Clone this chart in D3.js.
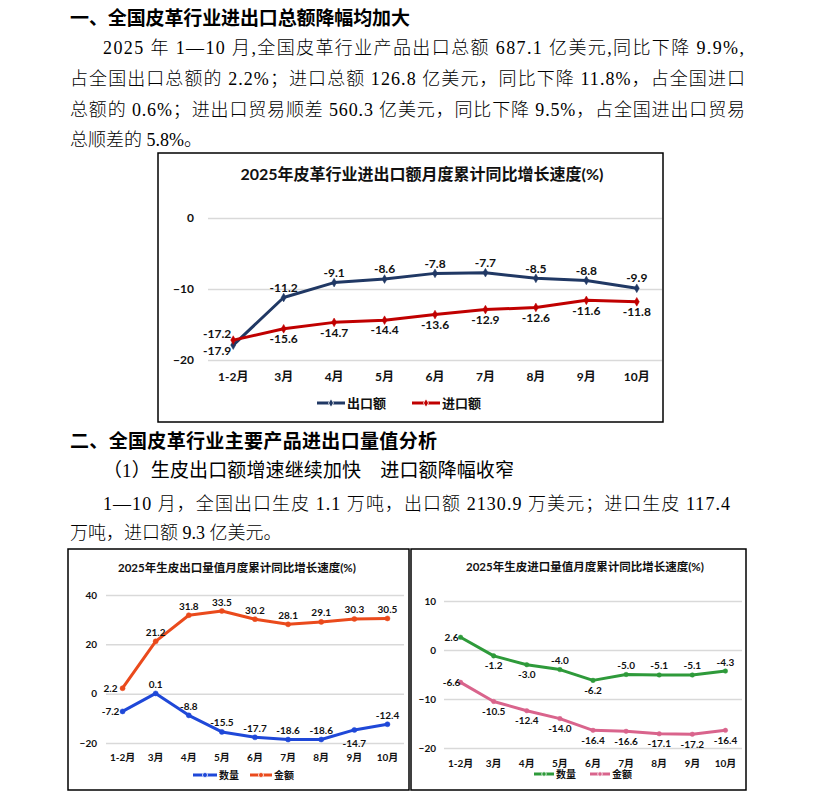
<!DOCTYPE html>
<html><head><meta charset="utf-8">
<script src="https://cdn.jsdelivr.net/npm/d3@7/dist/d3.min.js"></script>
<style>html,body{margin:0;padding:0;background:#fff;}svg{display:block;}</style>
</head><body>
<svg id="c" width="814" height="794"></svg>
<script>
// ---------- DATA ----------
const categories = ['1-2月','3月','4月','5月','6月','7月','8月','9月','10月'];
// Chart 1: 皮革行业进出口额月度累计同比增长速度(%)
const leatherExport = [-17.9,-11.2,-9.1,-8.6,-7.8,-7.7,-8.5,-8.8,-9.9];
const leatherImport = [-17.2,-15.6,-14.7,-14.4,-13.6,-12.9,-12.6,-11.6,-11.8];
const ticks1 = [0,-10,-20];
// Chart 2: 生皮出口量值
const hideExportQty = [-7.2,0.1,-8.8,-15.5,-17.7,-18.6,-18.6,-14.7,-12.4];
const hideExportVal = [2.2,21.2,31.8,33.5,30.2,28.1,29.1,30.3,30.5];
const ticks2 = [40,20,0,-20];
// Chart 3: 生皮进口量值
const hideImportQty = [2.6,-1.2,-3.0,-4.0,-6.2,-5.0,-5.1,-5.1,-4.3];
const hideImportVal = [-6.6,-10.5,-12.4,-14.0,-16.4,-16.6,-17.1,-17.2,-16.4];
const ticks3 = [10,0,-10,-20];

// ---------- TEXT ----------
const svg = d3.select('#c');
svg.append('rect').attr('width',814).attr('height',794).attr('fill','#fff');
const bodyFont = '"Liberation Serif","Noto Sans CJK SC",serif';
const headFont = '"Noto Sans CJK SC",sans-serif';
const chartFont = 'Lato,"Noto Sans CJK SC",sans-serif';

function txt(x,y,s,opt){
  const t = svg.append('text').attr('x',x).attr('y',y).text(s)
    .attr('font-family',opt.font||bodyFont).attr('font-size',opt.size||18)
    .attr('font-weight',opt.weight||300).attr('fill','#000');
  if(opt.len){t.attr('textLength',opt.len).attr('lengthAdjust','spacing');}
  return t;
}
txt(70,25,'一、全国皮革行业进出口总额降幅均加大',{font:headFont,size:19,weight:700,len:340});
txt(103,54,'2025 年 1—10 月,全国皮革行业产品出口总额 687.1 亿美元,同比下降 9.9%,',{len:641});
txt(70,85,'占全国出口总额的 2.2%；进口总额 126.8 亿美元，同比下降 11.8%，占全国进口',{len:675});
txt(70,116,'总额的 0.6%；进出口贸易顺差 560.3 亿美元，同比下降 9.5%，占全国进出口贸易',{len:675});
txt(70,146,'总顺差的 5.8%。',{});
txt(70,448,'二、全国皮革行业主要产品进出口量值分析',{font:headFont,size:19,weight:700,len:367});
txt(103,477,'（1）生皮出口额增速继续加快　进口额降幅收窄',{size:19,weight:400,len:411});
txt(103,510,'1—10 月，全国出口生皮 1.1 万吨，出口额 2130.9 万美元；进口生皮 117.4',{len:627});
txt(70,539,'万吨，进口额 9.3 亿美元。',{});

// ---------- CHARTS ----------
function drawChart(cfg){
  const g = svg.append('g');
  g.append('rect').attr('x',cfg.box[0]).attr('y',cfg.box[1])
    .attr('width',cfg.box[2]-cfg.box[0]).attr('height',cfg.box[3]-cfg.box[1])
    .attr('fill','#fff').attr('stroke','#000').attr('stroke-width',1.5);
  g.append('text').attr('x',cfg.titleX).attr('y',cfg.titleY).attr('text-anchor','middle')
    .attr('font-family',chartFont).attr('font-weight',700).attr('font-size',cfg.titleSize)
    .attr('fill','#111').text(cfg.title);
  const x = d3.scaleBand().domain(categories).range(cfg.xr);
  const y = d3.scaleLinear().domain(cfg.yd).range(cfg.yr);
  // grid
  const yAxis = d3.axisLeft(y).tickValues(cfg.ticks).tickSize(-(cfg.xr[1]-cfg.xr[0])).tickPadding(cfg.tickPad);
  const ga = g.append('g').attr('transform',`translate(${cfg.xr[0]},0)`).call(yAxis);
  ga.select('.domain').remove();
  ga.selectAll('line').attr('stroke','#d9d9d9').attr('stroke-width',1.5);
  ga.selectAll('text').attr('font-family',chartFont).attr('font-weight',700)
    .attr('font-size',cfg.axisSize).attr('fill','#111');
  // x labels
  const xAxis = d3.axisBottom(x).tickSize(0).tickPadding(0);
  const gx = g.append('g').attr('transform',`translate(0,${cfg.xLabelY})`).call(xAxis);
  gx.select('.domain').remove();
  gx.selectAll('text').attr('font-family',chartFont).attr('font-weight',700)
    .attr('font-size',cfg.axisSize).attr('fill','#111').attr('dy','0');
  const cx = d => x(d) + x.bandwidth()/2;
  cfg.series.forEach(s=>{
    const pts = categories.map((c,i)=>[cx(c), y(s.values[i]), s.values[i], s.pos[i]]);
    g.append('path').attr('d',d3.line()(pts.map(p=>[p[0],p[1]])))
      .attr('fill','none').attr('stroke',s.color).attr('stroke-width',cfg.lw)
      .attr('stroke-linejoin','round').attr('stroke-linecap','round');
    const sym = d3.symbol().type(cfg.marker).size(cfg.markerSize);
    g.selectAll(null).data(pts).enter().append('path')
      .attr('d',sym).attr('transform',p=>`translate(${p[0]},${p[1]})`)
      .attr('fill',s.color).attr('stroke',s.color).attr('stroke-width',0.5);
    g.selectAll(null).data(pts).enter().append('text')
      .attr('x',p=> p[3]==='l'? p[0]-cfg.lblLeft : p[0])
      .attr('y',p=> p[3]==='a'? p[1]-cfg.lblAbove : (p[3]==='b'? p[1]+cfg.lblBelow : p[1]+(p[3]==='l'? (s.lOff||0):0)))
      .attr('dy','0.35em')
      .attr('text-anchor','middle')
      .attr('font-family',chartFont).attr('font-weight',700).attr('font-size',cfg.lblSize)
      .attr('fill','#111').text(p=>p[2].toFixed(1));
  });
  // legend
  cfg.legend.forEach((L,i)=>{
    const s = cfg.series[i];
    g.append('line').attr('x1',L[0]).attr('x2',L[1]).attr('y1',cfg.legendY).attr('y2',cfg.legendY)
      .attr('stroke',s.color).attr('stroke-width',cfg.lw);
    g.append('path').attr('d',d3.symbol().type(cfg.marker).size(cfg.markerSize)())
      .attr('transform',`translate(${(L[0]+L[1])/2},${cfg.legendY})`).attr('fill',s.color)
      .attr('stroke','#fff').attr('stroke-width',0.8);
    g.append('text').attr('x',L[1]+2).attr('y',cfg.legendY).attr('dy','0.35em')
      .attr('font-family',chartFont).attr('font-weight',700).attr('font-size',cfg.legendSize)
      .attr('fill','#111').text(s.name);
  });
}

drawChart({
  box:[158,153,663,422], title:'2025年皮革行业进出口额月度累计同比增长速度(%)',
  titleX:422, titleY:180, titleSize:16,
  xr:[208,662], yd:[-20,0], yr:[360,218], ticks:ticks1, tickPad:14, axisSize:12,
  xLabelY:381, lw:3, marker:d3.symbolDiamond, markerSize:22,
  lblSize:12, lblAbove:10, lblBelow:10, lblLeft:16,
  series:[
    {name:'出口额', color:'#203864', values:leatherExport, pos:['l','a','a','a','a','a','a','a','a'], lOff:6},
    {name:'进口额', color:'#c00000', values:leatherImport, pos:['l','b','b','b','b','b','b','b','b'], lOff:-6}
  ],
  legend:[[317,345],[412,440]], legendY:403, legendSize:13
});

drawChart({
  box:[68,549,409,790], title:'2025年生皮出口量值月度累计同比增长速度(%)',
  titleX:237, titleY:572, titleSize:11.5,
  xr:[106,404], yd:[-20,40], yr:[743,595], ticks:ticks2, tickPad:9, axisSize:10,
  xLabelY:761, lw:3, marker:d3.symbolCircle, markerSize:20,
  lblSize:10, lblAbove:9, lblBelow:14, lblLeft:12,
  series:[
    {name:'数量', color:'#1f48d8', values:hideExportQty, pos:['l','a','a','a','a','a','a','b','a']},
    {name:'金额', color:'#ea4a1c', values:hideExportVal, pos:['l','a','a','a','a','a','a','a','a']}
  ],
  legend:[[193,217],[250,272]], legendY:775, legendSize:10
});

drawChart({
  box:[411,549,746,790], title:'2025年生皮进口量值月度累计同比增长速度(%)',
  titleX:585, titleY:571, titleSize:11.5,
  xr:[444,742], yd:[-20,10], yr:[748,601], ticks:ticks3, tickPad:8, axisSize:10,
  xLabelY:767, lw:3, marker:d3.symbolCircle, markerSize:16,
  lblSize:10, lblAbove:9, lblBelow:10, lblLeft:9,
  series:[
    {name:'数量', color:'#2e9a3a', values:hideImportQty, pos:['l','b','b','a','b','a','a','a','a']},
    {name:'金额', color:'#d9648c', values:hideImportVal, pos:['l','b','b','b','b','b','b','b','b']}
  ],
  legend:[[534,554],[590,610]], legendY:774, legendSize:10
});
</script>
</body></html>
